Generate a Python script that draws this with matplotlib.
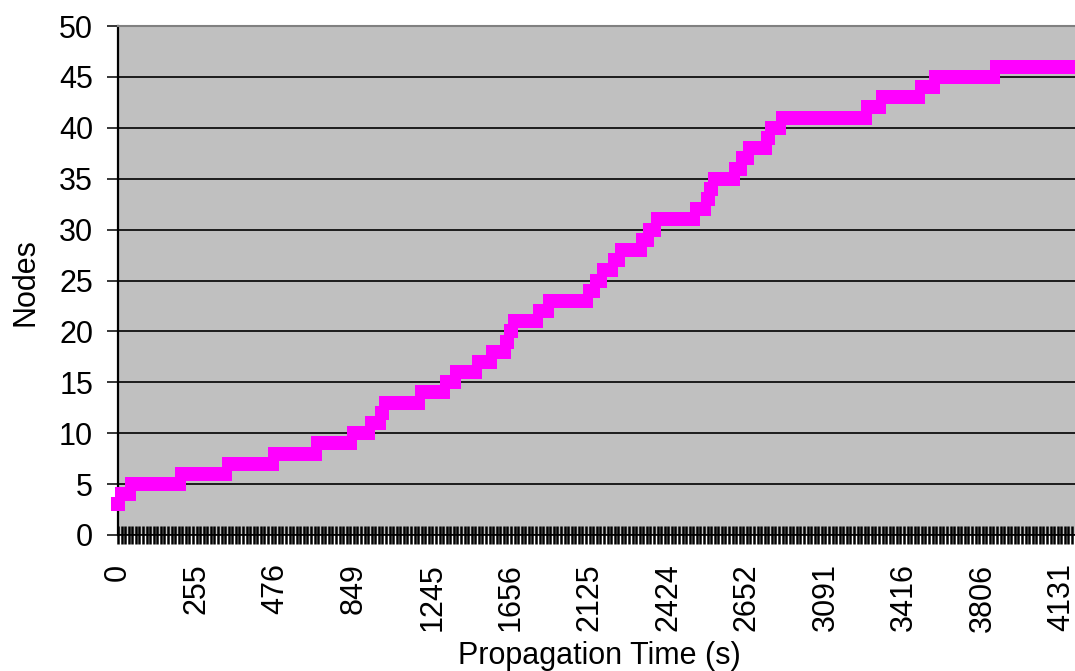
import numpy as np
import matplotlib
matplotlib.use("Agg")
import matplotlib.pyplot as plt

# Node count reached during propagation, stored as run lengths:
# each level is held for the given number of consecutive time samples.
node_levels = [3, 4, 5, 6, 7, 8, 9, 10, 11, 12, 13, 14, 15, 16, 17, 18, 19, 20,
               21, 22, 23, 24, 25, 26, 27, 28, 29, 30, 31, 32, 33, 34, 35, 36,
               37, 38, 39, 40, 41, 42, 43, 44, 45, 46]
samples_per_level = [1, 3, 14, 13, 13, 12, 10, 5, 3, 1, 10, 7, 3, 6, 4, 4, 1, 1,
                     7, 3, 11, 2, 2, 3, 2, 6, 2, 2, 11, 3, 1, 1, 6, 2,
                     2, 5, 1, 3, 24, 4, 11, 4, 17, 23]

# Propagation times (s) shown on the category axis, one every 22 samples
time_labels = ["0", "255", "476", "849", "1245", "1656", "2125", "2424",
               "2652", "3091", "3416", "3806", "4131"]
label_every = 22

nodes = np.repeat(node_levels, samples_per_level)
idx = np.arange(len(nodes))

plt.rcParams["font.family"] = ["Liberation Sans", "DejaVu Sans"]
W, H = 1075, 671
fig = plt.figure(figsize=(W / 100, H / 100), dpi=100)
fig.patch.set_facecolor("white")

step_px = 3.573
x0_px, top_px, bot_px = 118, 26, 535
xmax = 268
ax = fig.add_axes([x0_px / W, 1 - bot_px / H,
                   xmax * step_px / W, (bot_px - top_px) / H])
ax.set_facecolor("#C0C0C0")

ax.plot(idx, nodes, color="#FF00FF", lw=2.5, marker="s", markersize=10.3,
        markeredgewidth=0, clip_on=False, zorder=3)

ax.set_xlim(0, xmax)
ax.set_ylim(0, 50)
ax.set_yticks(np.arange(0, 51, 5))
ax.yaxis.grid(True, color="black", lw=1.2)
ax.set_axisbelow(True)

ticks = np.arange(0, len(nodes))
labels = [""] * len(ticks)
for i, lab in enumerate(time_labels):
    labels[i * label_every] = lab
ax.set_xticks(ticks)
ax.set_xticklabels(labels, rotation=90, ha="center", va="top")

ax.tick_params(axis="x", direction="inout", length=13, width=1.8,
               pad=14, labelsize=22, color="black")
ax.tick_params(axis="y", direction="out", length=8, width=1.1,
               pad=10, labelsize=22, color="black")

ax.spines["right"].set_visible(False)
ax.spines["top"].set_color("#808080")
ax.spines["top"].set_linewidth(1.5)
ax.spines["left"].set_color("black")
ax.spines["left"].set_linewidth(1.6)
ax.spines["bottom"].set_color("black")
ax.spines["bottom"].set_linewidth(1.2)

fig.text(25 / W, 1 - 282 / H, "Nodes", rotation=90, ha="center",
         va="center", fontsize=22)
fig.text(599 / W, 1 - 664 / H, "Propagation Time (s)", ha="center",
         va="baseline", fontsize=22)

fig.savefig("out.png", dpi=100)
